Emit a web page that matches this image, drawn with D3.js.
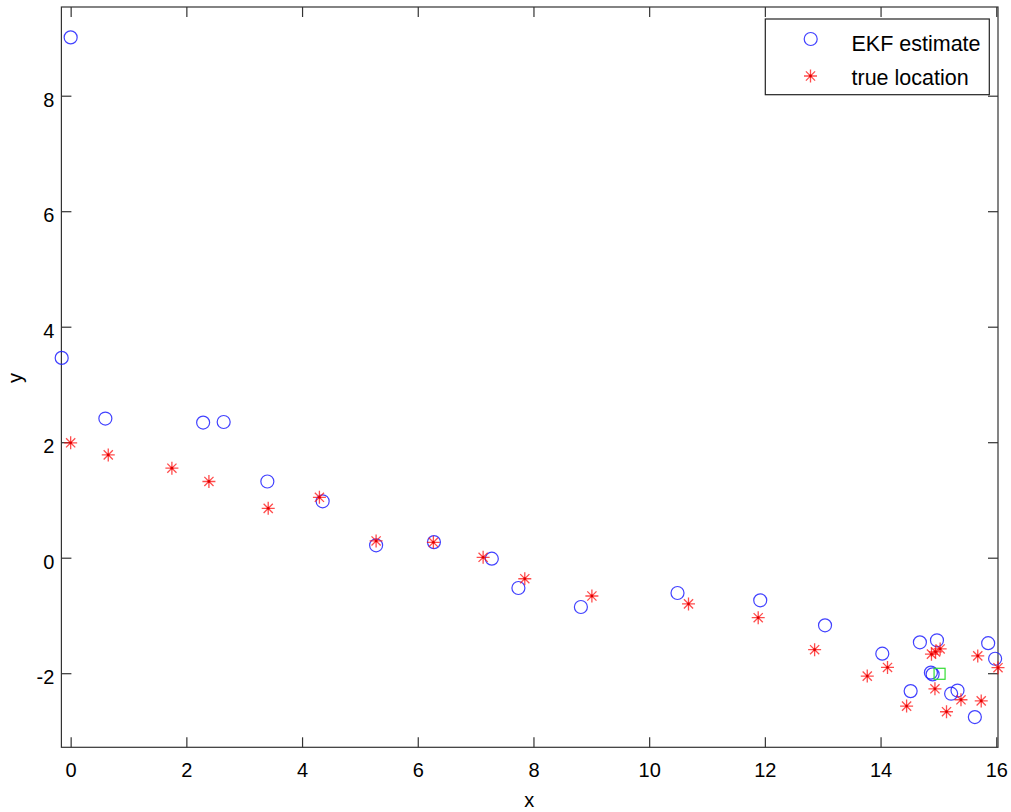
<!DOCTYPE html>
<html>
<head>
<meta charset="utf-8">
<script src="https://cdn.jsdelivr.net/npm/d3@7/dist/d3.min.js"></script>
<style>
  html, body { margin: 0; padding: 0; background: #fff; }
  svg { display: block; font-family: "Liberation Sans", Arial, sans-serif; }
</style>
</head>
<body>
<svg id="chart" width="1011" height="812"></svg>
<script>
// ---- data ----
const ekfX = [0.00, -0.155, 0.60, 2.29, 2.645, 3.40, 4.356, 5.28, 6.28, 7.28, 7.74, 8.82, 10.49, 11.92, 13.04, 14.03, 14.68, 14.975, 14.52, 14.87, 14.90, 15.22, 15.33, 15.63, 15.86, 15.98];
const ekfY = [9.01, 3.46, 2.41, 2.34, 2.35, 1.32, 0.977, 0.215, 0.27, -0.017, -0.525, -0.854, -0.611, -0.738, -1.171, -1.662, -1.465, -1.43, -2.31, -1.99, -2.02, -2.355, -2.30, -2.76, -1.48, -1.75];
const trueX = [0.00, 0.65, 1.75, 2.39, 3.415, 4.30, 5.28, 6.27, 7.13, 7.85, 9.01, 10.68, 11.885, 12.86, 13.77, 14.12, 14.45, 14.88, 14.95, 15.03, 14.94, 15.14, 15.39, 15.74, 15.68, 16.03];
const trueY = [1.99, 1.78, 1.55, 1.32, 0.855, 1.046, 0.29, 0.267, 0.007, -0.364, -0.663, -0.80, -1.039, -1.593, -2.05, -1.90, -2.57, -1.67, -1.63, -1.58, -2.27, -2.667, -2.46, -2.48, -1.70, -1.905];
const startX = [15.02];
const startY = [-2.01];
const xTicks = [0, 2, 4, 6, 8, 10, 12, 14, 16];
const yTicks = [-2, 0, 2, 4, 6, 8];
const legendLabels = ["EKF estimate", "true location"];

// ---- layout ----
const svg = d3.select("#chart");
const pLeft = 61.4, pRight = 998, pTop = 7, pBottom = 747.3;
const x = d3.scaleLinear().domain([-0.16, 16.03]).range([pLeft, pRight]);
const y = d3.scaleLinear().domain([-3.283, 9.536]).range([pBottom, pTop]);
const axisColor = "#333";
const fmt = d => String(d);

// frame
svg.append("rect").attr("x", pLeft).attr("y", pTop)
  .attr("width", pRight - pLeft).attr("height", pBottom - pTop)
  .attr("fill", "none").attr("stroke", axisColor).attr("stroke-width", 1.2);

function styleAxis(g, showLabels) {
  g.select(".domain").remove();
  g.selectAll(".tick line").attr("stroke", axisColor).attr("stroke-width", 1.2);
  if (!showLabels) g.selectAll(".tick text").remove();
  else g.selectAll(".tick text").attr("fill", "#000").attr("font-size", 20);
}

// bottom
svg.append("g").attr("transform", `translate(0,${pBottom})`)
  .call(d3.axisBottom(x).tickValues(xTicks).tickSize(-10).tickPadding(16).tickFormat(fmt))
  .call(g => styleAxis(g, true));
// top
svg.append("g").attr("transform", `translate(0,${pTop})`)
  .call(d3.axisTop(x).tickValues(xTicks).tickSize(-10))
  .call(g => styleAxis(g, false));
// left
svg.append("g").attr("transform", `translate(${pLeft},0)`)
  .call(d3.axisLeft(y).tickValues(yTicks).tickSize(-10).tickPadding(7).tickFormat(fmt))
  .call(g => { styleAxis(g, true); g.selectAll(".tick text").attr("dy", "0.52em"); });
// right
svg.append("g").attr("transform", `translate(${pRight},0)`)
  .call(d3.axisRight(y).tickValues(yTicks).tickSize(-10))
  .call(g => styleAxis(g, false));

// axis labels
svg.append("text").attr("x", (pLeft + pRight) / 2 - 0.5).attr("y", 807)
  .attr("text-anchor", "middle").attr("font-size", 20).text("x");
svg.append("text").attr("transform", "translate(22,378) rotate(-90)")
  .attr("text-anchor", "middle").attr("font-size", 20).text("y");

// markers
const blue = "#2020ff", red = "#ff1010";
function asterisk(s) {
  const d = s * 0.7071;
  return `M${-s},0L${s},0M0,${-s}L0,${s}M${-d},${-d}L${d},${d}M${-d},${d}L${d},${-d}`;
}
svg.append("g").selectAll("circle").data(d3.range(ekfX.length)).join("circle")
  .attr("cx", i => x(ekfX[i])).attr("cy", i => y(ekfY[i])).attr("r", 6.5)
  .attr("fill", "none").attr("stroke", blue).attr("stroke-width", 1.2).attr("stroke-opacity", 0.85);

svg.append("g").selectAll("path").data(d3.range(trueX.length)).join("path")
  .attr("transform", i => `translate(${x(trueX[i])},${y(trueY[i])})`)
  .attr("d", asterisk(6.5))
  .attr("fill", "none").attr("stroke", red).attr("stroke-width", 1.3).attr("stroke-opacity", 0.75);
svg.append("g").selectAll("circle").data(d3.range(trueX.length)).join("circle")
  .attr("cx", i => x(trueX[i])).attr("cy", i => y(trueY[i])).attr("r", 1.4).attr("fill", "#e00000");

svg.append("g").selectAll("rect").data(d3.range(startX.length)).join("rect")
  .attr("x", i => x(startX[i]) - 5.5).attr("y", i => y(startY[i]) - 5.5)
  .attr("width", 11).attr("height", 11)
  .attr("fill", "none").attr("stroke", "#33dd33").attr("stroke-width", 1.2);

// legend
const lg = svg.append("g");
lg.append("rect").attr("x", 765.3).attr("y", 19).attr("width", 224).attr("height", 75.7)
  .attr("fill", "#fff").attr("stroke", "#222").attr("stroke-width", 1.2);
lg.append("circle").attr("cx", 810.7).attr("cy", 39).attr("r", 6.5)
  .attr("fill", "none").attr("stroke", blue).attr("stroke-width", 1.2).attr("stroke-opacity", 0.85);
lg.append("path").attr("transform", "translate(810.5,76)").attr("d", asterisk(6.5))
  .attr("fill", "none").attr("stroke", red).attr("stroke-width", 1.3).attr("stroke-opacity", 0.75);
lg.append("circle").attr("cx", 810.5).attr("cy", 76).attr("r", 1.4).attr("fill", "#e00000");
lg.selectAll("text").data(legendLabels).join("text")
  .attr("x", 851.5).attr("y", (d, i) => 50.5 + i * 34).attr("font-size", 21.5).text(d => d);
</script>
</body>
</html>
